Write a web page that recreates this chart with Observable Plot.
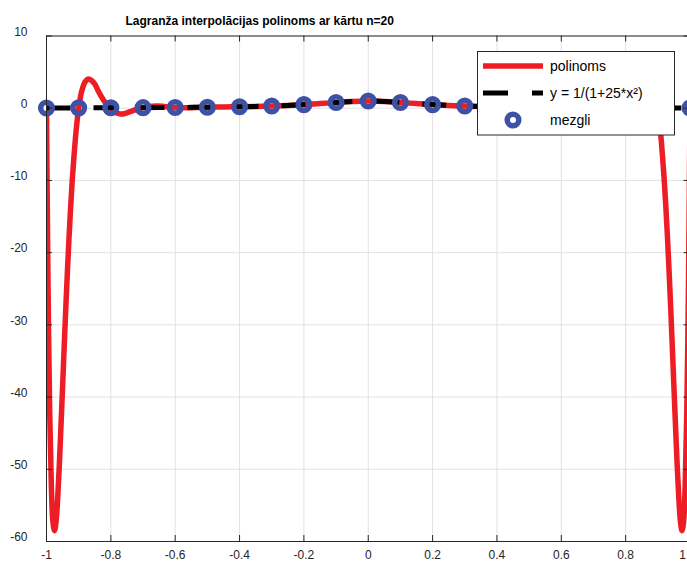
<!DOCTYPE html>
<html>
<head>
<meta charset="utf-8">
<script src="https://cdn.jsdelivr.net/npm/d3@7"></script>
<script src="https://cdn.jsdelivr.net/npm/@observablehq/plot@0.6"></script>
<style>
  html, body { margin: 0; padding: 0; background: #fff; overflow: hidden; }
  #chart { width: 687px; height: 563px; overflow: hidden; }
  #chart svg { max-width: none !important; }
</style>
</head>
<body>
<div id="chart"></div>
<script>
const title = "Lagranža interpolācijas polinoms ar kārtu n=20";
const xTicks = [-1, -0.8, -0.6, -0.4, -0.2, 0, 0.2, 0.4, 0.6, 0.8, 1];
const xTickLabels = ["-1", "-0.8", "-0.6", "-0.4", "-0.2", "0", "0.2", "0.4", "0.6", "0.8", "1"];
const yTicks = [-60, -50, -40, -30, -20, -10, 0, 10];
const yTickLabels = ["-60", "-50", "-40", "-30", "-20", "-10", "0", "10"];
const legendLabels = ["polinoms", "y = 1/(1+25*x²)", "mezgli"];

// interpolation nodes (mezgli)
const nodeX = [-1, -0.9, -0.8, -0.7, -0.6, -0.5, -0.4, -0.3, -0.2, -0.1, 0, 0.1, 0.2, 0.3, 0.4, 0.5, 0.6, 0.7, 0.8, 0.9, 1];
const nodeY = [0.038, 0.047, 0.059, 0.075, 0.1, 0.138, 0.2, 0.308, 0.5, 0.8, 1, 0.8, 0.5, 0.308, 0.2, 0.138, 0.1, 0.075, 0.059, 0.047, 0.038];

// dashed curve y = 1/(1+25x^2)
const funcX = [-1, -0.95, -0.9, -0.85, -0.8, -0.75, -0.7, -0.65, -0.6, -0.55, -0.5, -0.45, -0.4, -0.35, -0.3, -0.25, -0.2, -0.15, -0.1, -0.05, 0,
  0.05, 0.1, 0.15, 0.2, 0.25, 0.3, 0.35, 0.4, 0.45, 0.5, 0.55, 0.6, 0.65, 0.7, 0.75, 0.8, 0.85, 0.9, 0.95, 1];
const funcY = [0.038, 0.042, 0.047, 0.053, 0.059, 0.066, 0.075, 0.087, 0.1, 0.117, 0.138, 0.165, 0.2, 0.246, 0.308, 0.39, 0.5, 0.64, 0.8, 0.94, 1,
  0.94, 0.8, 0.64, 0.5, 0.39, 0.308, 0.246, 0.2, 0.165, 0.138, 0.117, 0.1, 0.087, 0.075, 0.066, 0.059, 0.053, 0.047, 0.042, 0.038];

// interpolation polynomial, values
const polyX = [
  -1, -0.999, -0.998, -0.995, -0.99, -0.985, -0.98, -0.975, -0.97, -0.965, -0.96, -0.955, -0.95, -0.945, -0.94, -0.935, -0.93, -0.925, -0.92, -0.915, -0.91, -0.905, -0.9,
  -0.89, -0.88, -0.87, -0.86, -0.85, -0.84, -0.83, -0.82, -0.81, -0.8,
  -0.79, -0.78, -0.77, -0.76, -0.75, -0.74, -0.73, -0.72, -0.71, -0.7,
  -0.68, -0.66, -0.64, -0.62, -0.6, -0.58, -0.56, -0.54, -0.52, -0.5, -0.45, -0.4, -0.35, -0.3, -0.25, -0.2, -0.15, -0.1, -0.05, 0,
  0.05, 0.1, 0.15, 0.2, 0.25, 0.3, 0.35, 0.4, 0.45, 0.5, 0.52, 0.54, 0.56, 0.58, 0.6, 0.62, 0.64, 0.66, 0.68,
  0.7, 0.71, 0.72, 0.73, 0.74, 0.75, 0.76, 0.77, 0.78, 0.79,
  0.8, 0.81, 0.82, 0.83, 0.84, 0.85, 0.86, 0.87, 0.88, 0.89,
  0.9, 0.905, 0.91, 0.915, 0.92, 0.925, 0.93, 0.935, 0.94, 0.945, 0.95, 0.955, 0.96, 0.965, 0.97, 0.975, 0.98, 0.985, 0.99, 0.995, 0.998, 0.999, 1
];
const polyY = [
  0.04, -5.9, -11.3, -25.4, -42.2, -52.2, -57.3, -58.5, -57.1, -53.8, -49.3, -44.0, -38.6, -33.0, -27.6, -22.6, -17.9, -13.7, -10.0, -6.9, -4.1, -1.85, 0.05,
  2.45, 3.65, 4.05, 3.85, 3.35, 2.45, 1.65, 0.95, 0.45, 0.06,
  -0.39, -0.69, -0.79, -0.76, -0.63, -0.48, -0.31, -0.15, -0.01, 0.076,
  0.23, 0.3, 0.27, 0.18, 0.1, 0.05, 0.06, 0.09, 0.12, 0.138, 0.18, 0.2, 0.245, 0.308, 0.39, 0.5, 0.64, 0.8, 0.94, 1,
  0.94, 0.8, 0.64, 0.5, 0.39, 0.308, 0.245, 0.2, 0.18, 0.138, 0.12, 0.09, 0.06, 0.05, 0.1, 0.18, 0.27, 0.3, 0.23,
  0.076, -0.01, -0.15, -0.31, -0.48, -0.63, -0.76, -0.79, -0.69, -0.39,
  0.06, 0.45, 0.95, 1.65, 2.45, 3.35, 3.85, 4.05, 3.65, 2.45,
  0.05, -1.85, -4.1, -6.9, -10.0, -13.7, -17.9, -22.6, -27.6, -33.0, -38.6, -44.0, -49.3, -53.8, -57.1, -58.5, -57.3, -52.2, -42.2, -25.4, -11.3, -5.9, 0.04
];

const poly = polyX.map((x, i) => ({x, y: polyY[i]}));
const func = funcX.map((x, i) => ({x, y: funcY[i]}));
const nodes = nodeX.map((x, i) => ({x, y: nodeY[i]}));

const RED = "#ee1d25";
const BLUE = "#3d51a5";
const AXIS = "#262626";
const GRID = "#e2e2e2";
const tx = 0.0186; // ~6px in x units
const ty = 0.83;   // ~6px in y units
const lastTick = xTicks[xTicks.length - 1];
const innerTicks = xTicks.slice(0, -1);
const fmt = d => xTickLabels[xTicks.indexOf(d)];
const fmtY = d => yTickLabels[yTicks.indexOf(d)];

const chart = Plot.plot({
  width: 700,
  height: 563,
  marginLeft: 46,
  marginRight: 10.5,
  marginTop: 35.5,
  marginBottom: 22,
  x: {domain: [-1, 1], label: null},
  y: {domain: [-60, 10], label: null},
  style: {fontFamily: "'Liberation Sans', Arial, Helvetica, sans-serif", fontSize: "12px", color: AXIS, background: "white", overflow: "visible", maxWidth: "none"},
  marks: [
    Plot.gridX(xTicks, {stroke: GRID, strokeOpacity: 1}),
    Plot.gridY(yTicks, {stroke: GRID, strokeOpacity: 1}),
    Plot.axisX(innerTicks, {tickSize: 0, tickPadding: 9, label: null, tickFormat: fmt, fill: AXIS}),
    Plot.axisX([lastTick], {tickSize: 0, tickPadding: 9, label: null, tickFormat: fmt, fill: AXIS, textAnchor: "end", dx: -4}),
    Plot.axisY(yTicks, {tickSize: 0, tickPadding: 19, label: null, dy: -4, fill: AXIS, tickFormat: fmtY}),
    Plot.line(poly, {x: "x", y: "y", stroke: RED, strokeWidth: 5.5, curve: "catmull-rom", clip: true}),
    Plot.line(func, {x: "x", y: "y", stroke: "black", strokeWidth: 5, strokeDasharray: "24,23", strokeLinecap: "butt", curve: "catmull-rom"}),
    Plot.dot(nodes, {x: "x", y: "y", r: 5.8, stroke: BLUE, strokeWidth: 5.5, fill: "none"}),
    Plot.ruleX(xTicks, {y1: -60, y2: -60 + ty, stroke: AXIS}),
    Plot.ruleX(xTicks, {y1: 10, y2: 10 - ty, stroke: AXIS}),
    Plot.ruleY(yTicks, {x1: -1, x2: -1 + tx, stroke: AXIS}),
    Plot.ruleY(yTicks, {x1: 1, x2: 1 - tx, stroke: AXIS}),
    Plot.frame({stroke: AXIS}),
    Plot.text([title], {frameAnchor: "top-left", dx: 79, dy: -20, textAnchor: "start", fontWeight: "bold", fontSize: 12, fill: "black"})
  ]
});

// legend
const svg = d3.select(chart);
const lg = svg.append("g")
  .attr("font-family", "'Liberation Sans', Arial, Helvetica, sans-serif")
  .attr("font-size", 14)
  .attr("text-anchor", "start");
lg.append("rect").attr("x", 477.5).attr("y", 51.5).attr("width", 197).attr("height", 83.5)
  .attr("fill", "white").attr("stroke", AXIS).attr("stroke-width", 1);
lg.append("line").attr("x1", 483).attr("x2", 543).attr("y1", 66).attr("y2", 66)
  .attr("stroke", RED).attr("stroke-width", 5.5);
lg.append("line").attr("x1", 483).attr("x2", 543).attr("y1", 93).attr("y2", 93)
  .attr("stroke", "black").attr("stroke-width", 5).attr("stroke-dasharray", "25,24");
lg.append("circle").attr("cx", 513).attr("cy", 120).attr("r", 5.8)
  .attr("fill", "none").attr("stroke", BLUE).attr("stroke-width", 5.5);
[71, 98, 125].forEach((yy, i) => {
  lg.append("text").attr("x", 550).attr("y", yy).attr("fill", "black")
    .style("text-anchor", "start").text(legendLabels[i]);
});

document.getElementById("chart").appendChild(chart);
</script>
</body>
</html>
